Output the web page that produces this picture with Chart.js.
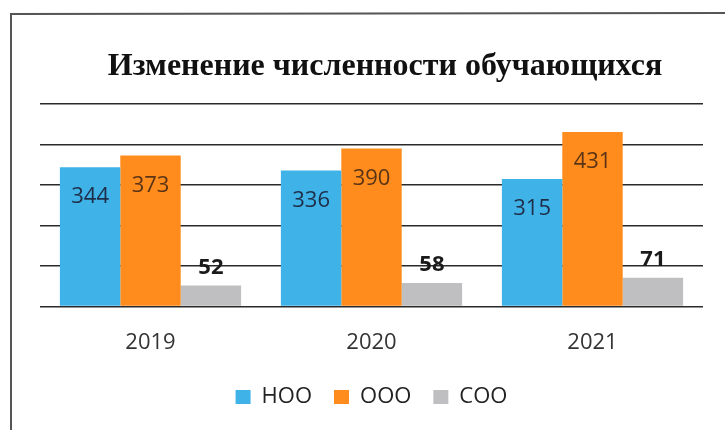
<!DOCTYPE html>
<html><head><meta charset="utf-8">
<script src="https://cdn.jsdelivr.net/npm/chart.js@4"></script>
<style>html,body{margin:0;padding:0;background:#fff;}#wrap{width:725px;height:430px;position:relative;}</style>
</head><body><div id="wrap"><canvas id="c" width="725" height="430"></canvas></div>
<script>
const categories = ['2019', '2020', '2021'];
const seriesNames = ['НОО', 'ООО', 'СОО'];
const nooValues = [344, 336, 315];
const oooValues = [373, 390, 431];
const cooValues = [52, 58, 71];
const yTicks = [0, 100, 200, 300, 400, 500];
const titleText = 'Изменение численности обучающихся';

const colors = ['#3FB2E8', '#FF8C1C', '#BFBFC1'];
const labelColors = ['#1F2E48', '#5A3416', '#1a1a1a'];

const frame = {
  id: 'frame',
  beforeDraw(chart) {
    const ctx = chart.ctx;
    ctx.save();
    ctx.fillStyle = '#fff';
    ctx.fillRect(0, 0, chart.width, chart.height);
    ctx.strokeStyle = '#555';
    ctx.lineWidth = 2;
    ctx.beginPath();
    ctx.moveTo(11, 430);
    ctx.lineTo(11, 14);
    ctx.lineTo(725, 13);
    ctx.stroke();
    ctx.font = 'bold 32px "Liberation Serif"';
    ctx.fillStyle = '#111';
    ctx.textAlign = 'center';
    ctx.textBaseline = 'middle';
    ctx.fillText(titleText, 385, 67);
    ctx.restore();
  }
};

const valueLabels = {
  id: 'valueLabels',
  afterDatasetsDraw(chart) {
    const ctx = chart.ctx;
    ctx.save();
    ctx.textAlign = 'center';
    ctx.textBaseline = 'middle';
    chart.data.datasets.forEach((ds, i) => {
      const meta = chart.getDatasetMeta(i);
      meta.data.forEach((el, j) => {
        const v = ds.data[j];
        if (i < 2) {
          ctx.font = '22px "Open Sans"';
          ctx.fillStyle = labelColors[i];
          ctx.fillText(String(v), el.x, el.y + 30);
        } else {
          ctx.font = 'bold 22px "Open Sans"';
          ctx.fillStyle = labelColors[i];
          ctx.fillText(String(v), el.x, el.y - 18);
        }
      });
    });
    ctx.restore();
  }
};

new Chart(document.getElementById('c'), {
  type: 'bar',
  data: {
    labels: categories,
    datasets: [
      { label: seriesNames[0], data: nooValues, backgroundColor: colors[0] },
      { label: seriesNames[1], data: oooValues, backgroundColor: colors[1] },
      { label: seriesNames[2], data: cooValues, backgroundColor: colors[2] }
    ]
  },
  options: {
    responsive: false,
    animation: false,
    devicePixelRatio: 1,
    datasets: { bar: { categoryPercentage: 0.82, barPercentage: 1.0 } },
    layout: { padding: { left: 40, right: 22, top: 104, bottom: 12 } },
    plugins: {
      title: { display: false },
      legend: {
        position: 'bottom',
        labels: {
          font: { family: '"Open Sans"', size: 22 },
          color: '#222',
          boxWidth: 15,
          boxHeight: 14,
          padding: 22
        }
      },
      tooltip: { enabled: false }
    },
    scales: {
      x: {
        grid: { display: false },
        border: { display: false },
        ticks: { font: { family: '"Open Sans"', size: 22 }, color: '#333', padding: 15 },
        afterFit(axis) { axis.height -= 7; }
      },
      y: {
        min: 0, max: 500,
        afterBuildTicks(axis) { axis.ticks = yTicks.map(v => ({ value: v })); },
        ticks: { display: false },
        border: { display: false },
        grid: { color: '#2a2a2a', lineWidth: 1.6, drawTicks: false }
      }
    }
  },
  plugins: [frame, valueLabels]
});
</script></body></html>
